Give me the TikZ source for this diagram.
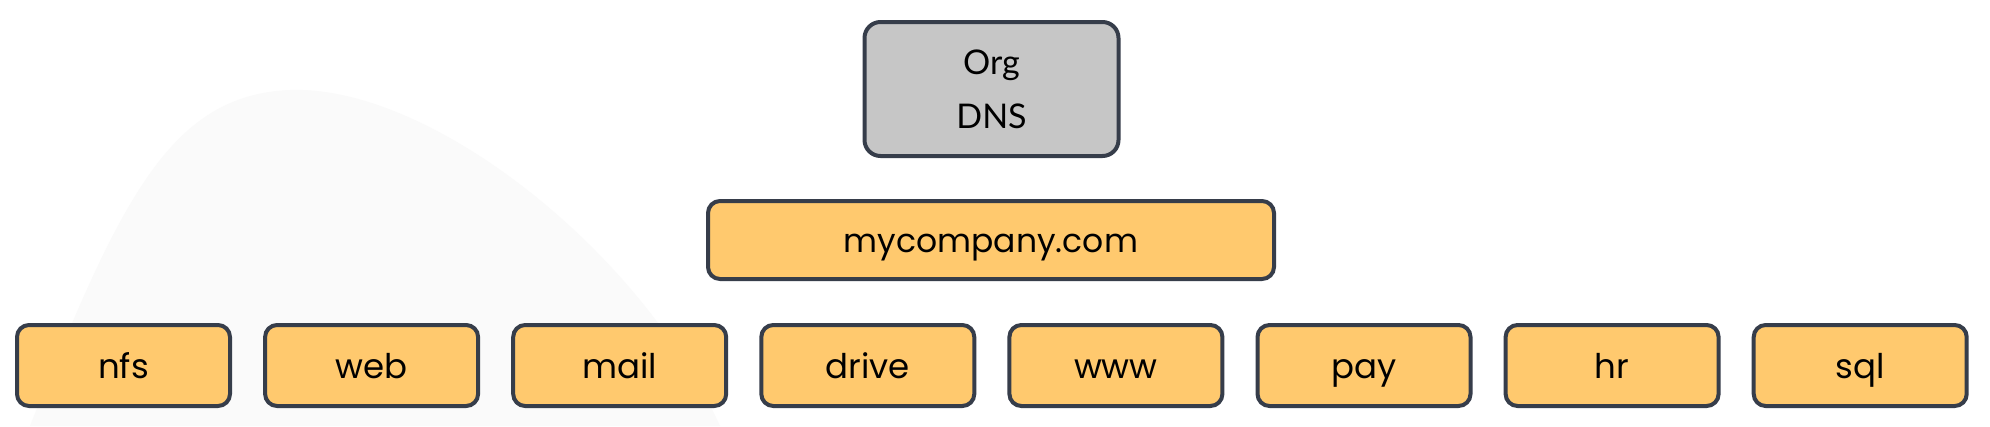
\documentclass[tikz,border=0pt]{standalone}
\usepackage{fontspec}
\newfontfamily\leaffont{Poppins}
\newfontfamily\orgfont{Lato}
\definecolor{boxline}{HTML}{363D4A}
\definecolor{orangefill}{HTML}{FFC96E}
\definecolor{grayfill}{HTML}{C6C6C6}
\definecolor{hill}{HTML}{FAFAFA}
\tikzset{
  box/.style={draw=boxline, line width=4pt, rounded corners=12pt, inner sep=0pt, align=center},
  orgbox/.style={box, fill=grayfill, minimum width=254pt, minimum height=134pt, rounded corners=16pt,
    font=\orgfont\fontsize{34}{54}\selectfont},
  midbox/.style={box, fill=orangefill, minimum width=566pt, minimum height=78pt,
    text height=32pt, text depth=8pt,
    font=\leaffont\fontsize{33}{40}\selectfont},
  leafbox/.style={box, fill=orangefill, minimum width=213pt, minimum height=81pt,
    text height=33pt, text depth=8pt,
    font=\leaffont\fontsize{34}{40}\selectfont},
}
\begin{document}
\begin{tikzpicture}[x=1pt, y=-1pt]
\useasboundingbox (0,0) rectangle (1990,426);
\fill[white] (0,0) rectangle (1990,426);
% faint background hill
\fill[hill] (30,426) .. controls (120,200) and (170,95) .. (290,90)
  .. controls (430,85) and (640,250) .. (720,426) -- cycle;
\node[orgbox] (org) at (991.5,89) {Org\\DNS};
\node[midbox] (myco) at (991,240) {mycompany.com};
\foreach \name [count=\i from 0] in {nfs,web,mail,drive,www,pay,hr,sql} {
  \node[leafbox] (\name) at ({123.5+248.1*\i},365.5) {\name};
}
\end{tikzpicture}
\end{document}
